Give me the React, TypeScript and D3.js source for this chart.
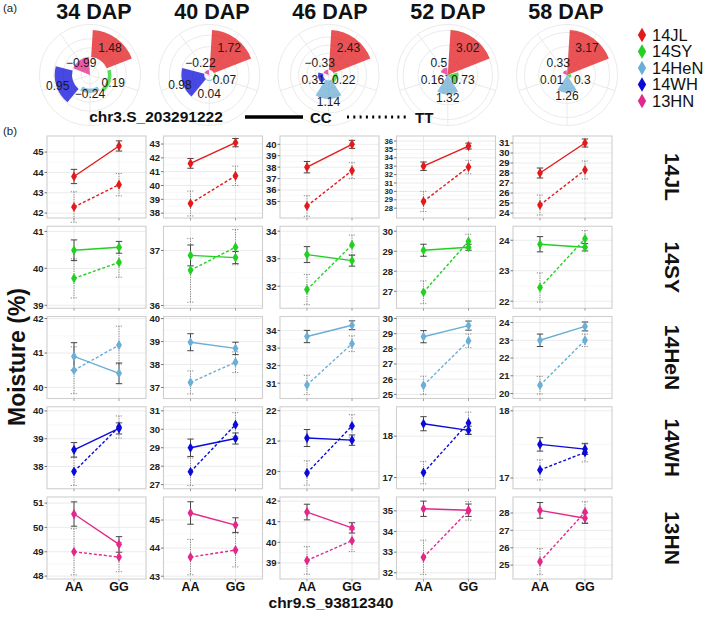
import React from "react";
import * as d3 from "d3";

const sites = ["14JL", "14SY", "14HeN", "14WH", "13HN"];
const siteColors = ["#E31A1C", "#22D022", "#6BAED6", "#0B0BD9", "#E2288A"];
const days = ["34 DAP", "40 DAP", "46 DAP", "52 DAP", "58 DAP"];
const alleles = ["AA", "GG"];

// (a) polar effects, order = sites
const effect34 = [1.48, 0.19, -0.24, 0.95, -0.99];
const effect40 = [1.72, 0.07, 0.04, 0.98, -0.22];
const effect46 = [2.43, 0.22, 1.14, 0.31, -0.33];
const effect52 = [3.02, 0.73, 1.32, 0.16, 0.5];
const effect58 = [3.17, 0.3, 1.26, 0.01, 0.33];
const effects = [effect34, effect40, effect46, effect52, effect58];

// (b) per site, per day: [AA, GG]
const jlCC = [[43.8, 45.3], [41.6, 43.1], [38.0, 40.0], [33.0, 35.4], [28.0, 31.0]];
const jlCCse = [[0.35, 0.25], [0.35, 0.3], [0.5, 0.35], [0.5, 0.35], [0.5, 0.4]];
const jlTT = [[42.3, 43.4], [38.7, 40.7], [34.6, 37.7], [28.8, 32.9], [24.8, 28.3]];
const jlTTse = [[0.75, 0.55], [0.9, 0.7], [0.9, 0.7], [1.2, 0.8], [1.0, 0.9]];
const jlLim = [[41.76, 45.79], [37.65, 43.58], [33.55, 40.73], [26.83, 36.6], [23.5, 31.7]];
const jlTicks = [[42, 43, 44, 45], [38, 39, 40, 41, 42, 43], [35, 36, 37, 38, 39, 40], [28, 29, 30, 31, 32, 33, 34, 35, 36], [24, 25, 26, 27, 28, 29, 30, 31]];

const syCC = [[40.49, 40.57], [36.91, 36.87], [33.15, 32.93], [29.05, 29.2], [23.87, 23.77]];
const syCCse = [[0.28, 0.16], [0.19, 0.11], [0.29, 0.2], [0.3, 0.15], [0.25, 0.12]];
const syTT = [[39.73, 40.16], [36.64, 37.06], [31.88, 33.5], [26.95, 29.5], [22.45, 24.05]];
const syTTse = [[0.53, 0.4], [0.58, 0.32], [0.55, 0.36], [0.57, 0.35], [0.48, 0.27]];
const syLim = [[38.92, 41.14], [35.95, 37.44], [31.2, 34.18], [26.15, 30.25], [21.77, 24.46]];
const syTicks = [[39, 40, 41], [36, 37], [32, 33, 34], [27, 28, 29, 30], [22, 23, 24]];

const henCC = [[40.9, 40.41], [38.97, 38.7], [33.66, 34.3], [28.8, 29.53], [23.0, 23.78]];
const henCCse = [[0.4, 0.3], [0.37, 0.27], [0.35, 0.25], [0.4, 0.3], [0.35, 0.25]];
const henTT = [[40.5, 41.23], [37.22, 38.1], [30.9, 33.25], [25.6, 28.53], [20.47, 23.0]];
const henTTse = [[0.68, 0.55], [0.5, 0.45], [0.55, 0.45], [0.6, 0.45], [0.5, 0.35]];
const henLim = [[39.68, 42.06], [36.52, 40.09], [30.13, 34.8], [24.73, 30.13], [19.72, 24.34]];
const henTicks = [[40, 41, 42], [37, 38, 39, 40], [31, 32, 33, 34], [25, 26, 27, 28, 29, 30], [20, 21, 22, 23, 24]];

const whCC = [[38.6, 39.37], [29.0, 29.5], [21.1, 21.03], [18.3, 18.14], [17.5, 17.43]];
const whCCse = [[0.26, 0.2], [0.47, 0.3], [0.28, 0.17], [0.17, 0.1], [0.1, 0.08]];
const whTT = [[37.82, 39.42], [27.7, 30.25], [19.95, 21.5], [17.12, 18.32], [17.12, 17.38]];
const whTTse = [[0.5, 0.4], [0.75, 0.65], [0.4, 0.37], [0.27, 0.26], [0.15, 0.14]];
const whLim = [[37.2, 40.15], [26.78, 31.22], [19.43, 22.13], [16.73, 18.71], [16.84, 18.06]];
const whTicks = [[38, 39, 40], [27, 28, 29, 30, 31], [20, 21, 22], [17, 18], [17, 18]];

const hnCC = [[50.55, 49.3], [45.25, 44.82], [41.47, 40.7], [35.1, 35.03], [28.15, 27.7]];
const hnCCse = [[0.5, 0.32], [0.4, 0.26], [0.38, 0.25], [0.37, 0.3], [0.45, 0.3]];
const hnTT = [[49.0, 48.78], [43.68, 43.93], [39.12, 40.08], [32.75, 35.0], [25.2, 28.05]];
const hnTTse = [[0.95, 0.6], [0.63, 0.6], [0.67, 0.53], [0.83, 0.45], [0.75, 0.6]];
const hnLim = [[47.88, 51.25], [42.9, 45.82], [38.22, 42.2], [31.7, 35.67], [24.2, 28.92]];
const hnTicks = [[48, 49, 50, 51], [43, 44, 45], [39, 40, 41, 42], [32, 33, 34, 35], [25, 26, 27, 28]];

const siteCC = [jlCC, syCC, henCC, whCC, hnCC];
const siteCCse = [jlCCse, syCCse, henCCse, whCCse, hnCCse];
const siteTT = [jlTT, syTT, henTT, whTT, hnTT];
const siteTTse = [jlTTse, syTTse, henTTse, whTTse, hnTTse];
const siteLim = [jlLim, syLim, henLim, whLim, hnLim];
const siteTicks = [jlTicks, syTicks, henTicks, whTicks, hnTicks];

const FONT = "'Liberation Sans', Arial, Helvetica, sans-serif";

function Polar({ vals, cx, cy, title, titleX }: { vals: number[]; cx: number; cy: number; title: string; titleX: number }) {
  const R = 45;
  const outer = (R * 0.45) / 0.4;
  const lo = Math.min(0, d3.min(vals) as number);
  const hi = Math.max(0, d3.max(vals) as number);
  const r = d3.scaleLinear().domain([lo, hi]).range([0, R]);
  const n = vals.length;
  const arc = d3.arc<any>();
  const grid = r.ticks(4).filter((t) => r(t) > 0.5);
  return (
    <g>
      <text x={titleX} y={19} textAnchor="middle" fontSize={21.5} fontWeight="bold" fontFamily={FONT} fill="#111">
        {title}
      </text>
      <g transform={`translate(${cx},${cy})`}>
        {grid.map((t) => (
          <circle key={t} r={r(t)} fill="none" stroke="#e8e8e8" strokeWidth={0.9} />
        ))}
        <circle r={outer} fill="none" stroke="#e8e8e8" strokeWidth={0.9} />
        {vals.map((v, k) => {
          const a = ((k + 0.5) / n) * 2 * Math.PI;
          return <line key={k} x1={0} y1={0} x2={outer * Math.sin(a)} y2={-outer * Math.cos(a)} stroke="#e8e8e8" strokeWidth={0.9} />;
        })}
        {vals.map((v, k) => {
          const d = arc({
            innerRadius: r(Math.min(0, v)),
            outerRadius: r(Math.max(0, v)),
            startAngle: ((k + 0.05) / n) * 2 * Math.PI,
            endAngle: ((k + 0.95) / n) * 2 * Math.PI,
          }) as string;
          return <path key={k} d={d} fill={siteColors[k]} fillOpacity={0.75} />;
        })}
        {vals.map((v, k) => {
          const a = ((k + 0.5) / n) * 2 * Math.PI;
          const rl = Math.max(15 + 3.5 * Math.max(0, -Math.cos(a)), Math.min(34, r(v) + 3));
          return (
            <text key={k} x={rl * Math.sin(a)} y={-rl * Math.cos(a)} textAnchor="middle" dominantBaseline="central" fontSize={12} fontFamily={FONT} fill="#1a1a1a">
              {v < 0 ? "\u2212" + Math.abs(v) : String(v)}
            </text>
          );
        })}
      </g>
    </g>
  );
}

function Panel({ si, di, x0, y0, w, h }: { si: number; di: number; x0: number; y0: number; w: number; h: number }) {
  const col = siteColors[si];
  const cc = siteCC[si][di];
  const ccse = siteCCse[si][di];
  const tt = siteTT[si][di];
  const ttse = siteTTse[si][di];
  const lim = siteLim[si][di];
  const ticks = siteTicks[si][di];
  const x = d3.scalePoint<string>().domain(alleles).range([x0, x0 + w]).padding(0.6);
  const y = d3.scaleLinear().domain(lim).range([y0 + h, y0]);
  const line = d3
    .line<number>()
    .x((_, i) => x(alleles[i]) as number)
    .y((d) => y(d));
  const minor = ticks.slice(0, -1).map((t, i) => (t + ticks[i + 1]) / 2);
  const diamond = d3.symbol().type(d3.symbolDiamond).size(30)() as string;
  const cap = 3.2;
  const spacing = ticks.length > 1 ? Math.abs(y(ticks[0]) - y(ticks[1])) : 20;
  const tickFont = spacing < 10 ? 7.6 : 9.5;
  const errBars = (vals: number[], se: number[], dotted: boolean) =>
    vals.map((v, i) => {
      const xx = x(alleles[i]) as number;
      const yt = y(v + se[i]);
      const yb = y(v - se[i]);
      const st = dotted ? "#8a8a8a" : "#444";
      const da = dotted ? "1.2,1.2" : undefined;
      return (
        <g key={i} stroke={st} strokeWidth={1} strokeDasharray={da} fill="none">
          <line x1={xx} x2={xx} y1={yt} y2={yb} />
          <line x1={xx - cap} x2={xx + cap} y1={yt} y2={yt} />
          <line x1={xx - cap} x2={xx + cap} y1={yb} y2={yb} />
        </g>
      );
    });
  return (
    <g>
      <rect x={x0} y={y0} width={w} height={h} fill="#fff" />
      {minor.map((t) => (
        <line key={"m" + t} x1={x0} x2={x0 + w} y1={y(t)} y2={y(t)} stroke="#f3f3f3" strokeWidth={0.6} />
      ))}
      {ticks.map((t) => (
        <line key={"g" + t} x1={x0} x2={x0 + w} y1={y(t)} y2={y(t)} stroke="#e6e6e6" strokeWidth={0.8} />
      ))}
      {alleles.map((a) => (
        <line key={a} x1={x(a)} x2={x(a)} y1={y0} y2={y0 + h} stroke="#e6e6e6" strokeWidth={0.8} />
      ))}
      <rect x={x0} y={y0} width={w} height={h} fill="none" stroke="#cfcfcf" strokeWidth={1.1} />
      {ticks.map((t) => (
        <g key={"t" + t}>
          <line x1={x0 - 2.5} x2={x0} y1={y(t)} y2={y(t)} stroke="#555" strokeWidth={0.8} />
          <text x={x0 - 3.5} y={y(t)} dy="0.35em" textAnchor="end" fontSize={tickFont} fontWeight="bold" fontFamily={FONT} fill="#222">
            {t}
          </text>
        </g>
      ))}
      {alleles.map((a) => (
        <line key={"xt" + a} x1={x(a)} x2={x(a)} y1={y0 + h} y2={y0 + h + 2.5} stroke="#888" strokeWidth={0.8} />
      ))}
      {errBars(tt, ttse, true)}
      {errBars(cc, ccse, false)}
      <path d={line(tt) as string} fill="none" stroke={col} strokeWidth={1.4} strokeDasharray="3,2" />
      <path d={line(cc) as string} fill="none" stroke={col} strokeWidth={1.4} />
      {[...tt, ...cc].map((v, i) => (
        <path key={"p" + i} d={diamond} transform={`translate(${x(alleles[i % 2])},${y(v)})`} fill={col} />
      ))}
    </g>
  );
}

export default function App() {
  const W = 709;
  const H = 619;
  const colBand = d3.scaleBand<string>().domain(days).range([47, 612]).paddingInner(0.15);
  const rowBand = d3.scaleBand<string>().domain(sites).range([136, 579]).paddingInner(0.0914);
  const pw = colBand.bandwidth();
  const ph = rowBand.bandwidth();
  const polarX = d3.scalePoint<string>().domain(days).range([90, 567]);
  const titleX = d3.scalePoint<string>().domain(days).range([94, 566]);
  const diamondLg = d3.symbol().type(d3.symbolDiamond).size(60)() as string;
  return (
    <svg width={W} height={H} style={{ position: "absolute", left: 0, top: 0, background: "#fff" }} fontFamily={FONT}>
      <rect width={W} height={H} fill="#fff" />
      <text x={3} y={12} fontSize={11.5} fill="#222">(a)</text>
      <text x={3} y={135} fontSize={11.5} fill="#222">(b)</text>
      {days.map((d, i) => (
        <Polar key={d} vals={effects[i]} cx={polarX(d) as number} cy={75} title={d} titleX={titleX(d) as number} />
      ))}
      {sites.map((s, i) => (
        <g key={s}>
          <path d={diamondLg} transform={`translate(642,${35 + i * 16.5})`} fill={siteColors[i]} />
          <text x={652} y={35 + i * 16.5} dy="0.36em" fontSize={16.5} fill="#111">
            {s}
          </text>
        </g>
      ))}
      <text x={156} y={122} textAnchor="middle" fontSize={15.5} fontWeight="bold" fill="#111">chr3.S_203291222</text>
      <line x1={245} x2={303} y1={117} y2={117} stroke="#000" strokeWidth={3.5} />
      <text x={310} y={122.5} fontSize={15} fontWeight="bold" fill="#111">CC</text>
      <line x1={347} x2={407} y1={117} y2={117} stroke="#000" strokeWidth={3} strokeDasharray="2,4.3" />
      <text x={415} y={122.5} fontSize={15} fontWeight="bold" fill="#111">TT</text>
      {sites.map((s, si) =>
        days.map((d, di) => (
          <Panel key={s + d} si={si} di={di} x0={colBand(d) as number} y0={rowBand(s) as number} w={pw} h={ph} />
        ))
      )}
      {sites.map((s) => (
        <text key={"strip" + s} transform={`translate(672,${(rowBand(s) as number) + ph / 2}) rotate(90)`} textAnchor="middle" dominantBaseline="central" fontSize={21} fontWeight="bold" fill="#111">
          {s}
        </text>
      ))}
      {days.map((d) => {
        const x = d3.scalePoint<string>().domain(alleles).range([colBand(d) as number, (colBand(d) as number) + pw]).padding(0.6);
        return alleles.map((a) => (
          <text key={d + a} x={x(a)} y={591} textAnchor="middle" fontSize={12.5} fontWeight="bold" fill="#111">
            {a}
          </text>
        ));
      })}
      <text x={331} y={608} textAnchor="middle" fontSize={15.5} fontWeight="bold" fill="#111">chr9.S_93812340</text>
      <text transform="translate(17,357) rotate(-90)" textAnchor="middle" dominantBaseline="central" fontSize={23} fontWeight="bold" fill="#111">
        Moisture (%)
      </text>
    </svg>
  );
}
